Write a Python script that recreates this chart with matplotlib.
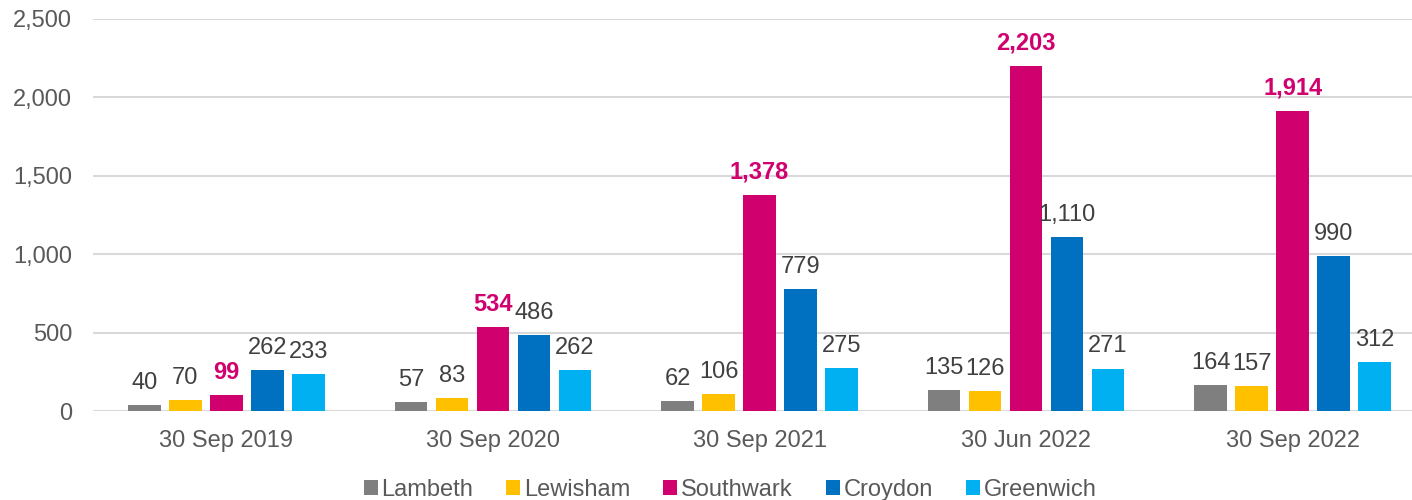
import matplotlib.pyplot as plt
import numpy as np

plt.rcParams['font.family'] = ['Liberation Sans', 'DejaVu Sans']

dates = ["30 Sep 2019", "30 Sep 2020", "30 Sep 2021", "30 Jun 2022", "30 Sep 2022"]
boroughs = ["Lambeth", "Lewisham", "Southwark", "Croydon", "Greenwich"]
lambeth = [40, 57, 62, 135, 164]
lewisham = [70, 83, 106, 126, 157]
southwark = [99, 534, 1378, 2203, 1914]
croydon = [262, 486, 779, 1110, 990]
greenwich = [233, 262, 275, 271, 312]
colours = ["#7F7F7F", "#FFC000", "#D0006F", "#0070C0", "#00B0F0"]


def main():
    series = [lambeth, lewisham, southwark, croydon, greenwich]
    fig = plt.figure(figsize=(14.12, 5), dpi=100)
    ax = fig.add_axes([93 / 1412, 89 / 500, 1333 / 1412, 392 / 500])

    x = np.arange(len(dates))
    step = 0.1537
    width = 0.122
    fs = 17
    for i, (name, vals) in enumerate(zip(boroughs, series)):
        pos = x + (i - 2) * step
        ax.bar(pos, vals, width, color=colours[i], label=name, zorder=3)
        for p, v in zip(pos, vals):
            if name == "Southwark":
                ax.annotate(f"{v:,}", (p, v), xytext=(0, 8), textcoords="offset points",
                            ha="center", va="bottom", fontsize=fs, color="#D0006F",
                            fontweight="bold")
            else:
                ax.annotate(f"{v:,}", (p, v), xytext=(0, 8), textcoords="offset points",
                            ha="center", va="bottom", fontsize=fs, color="#404040")

    ax.set_xlim(-0.5, 4.5)
    ax.set_ylim(0, 2500)
    ax.set_yticks(range(0, 2501, 500))
    ax.set_yticklabels([f"{t:,}" for t in range(0, 2501, 500)])
    ax.set_xticks(x)
    ax.set_xticklabels(dates)
    ax.tick_params(axis="both", length=0, labelsize=fs, labelcolor="#595959")
    ax.tick_params(axis="y", pad=15)
    ax.tick_params(axis="x", pad=14)
    ax.grid(axis="y", color="#D9D9D9", linewidth=1.5, zorder=0)
    for s in ax.spines.values():
        s.set_visible(False)

    leg = fig.legend(loc="center", bbox_to_anchor=(730 / 1412, 10 / 500), ncol=5,
                     frameon=False, fontsize=fs, handlelength=0.6, handleheight=0.6,
                     handletextpad=0.15, columnspacing=1.4, borderpad=0)
    for t in leg.get_texts():
        t.set_color("#595959")

    fig.savefig("out.png", dpi=100)


if __name__ == "__main__":
    main()
